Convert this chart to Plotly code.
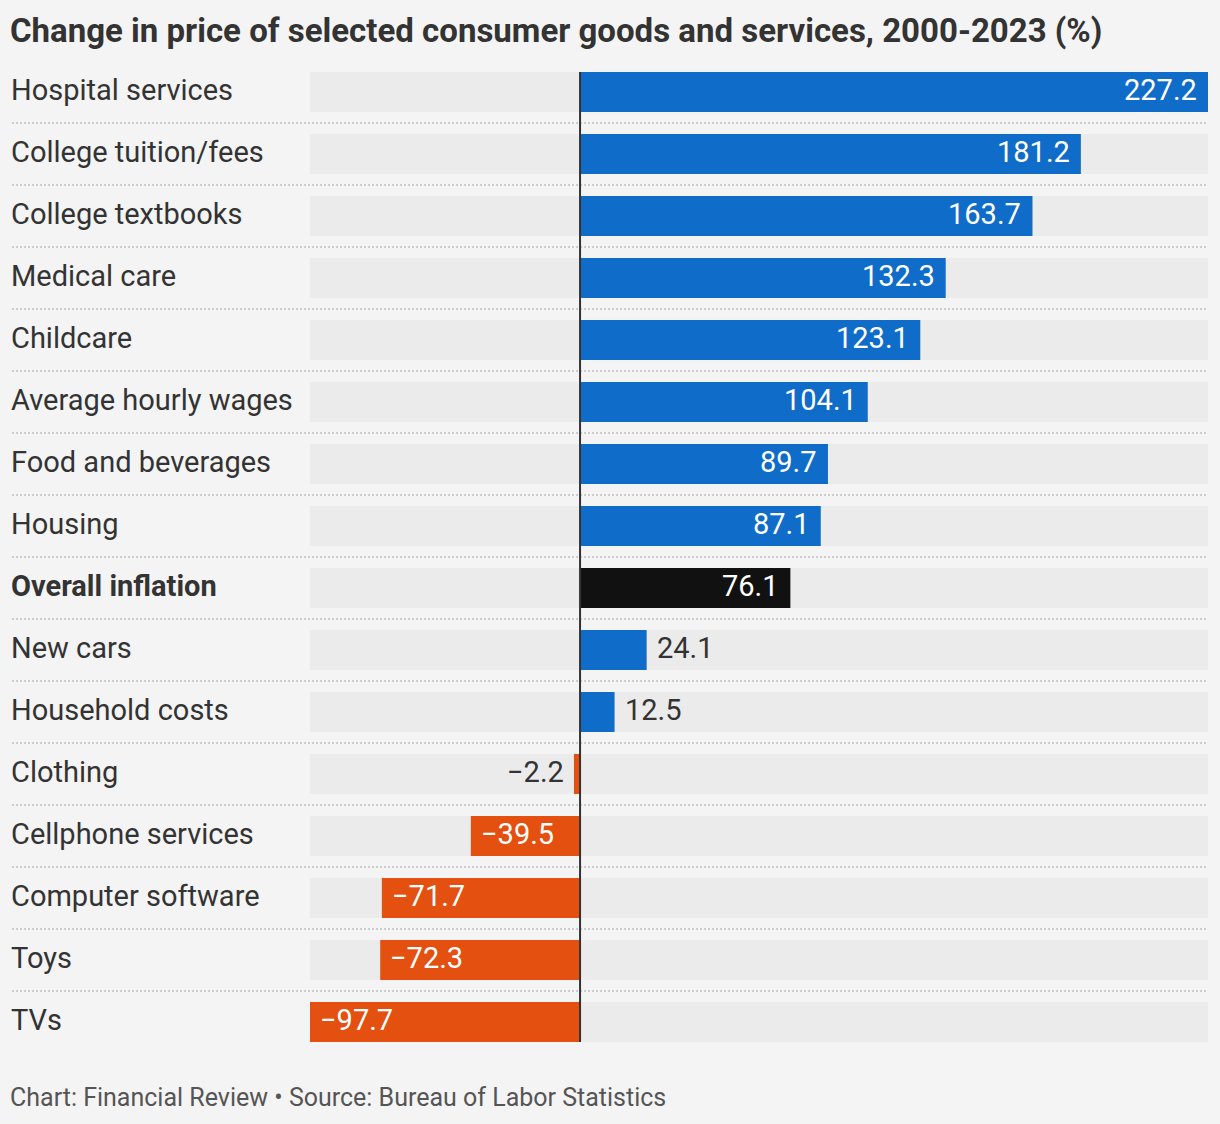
import plotly.graph_objects as go

categories = ["Hospital services", "College tuition/fees", "College textbooks", "Medical care",
              "Childcare", "Average hourly wages", "Food and beverages", "Housing",
              "Overall inflation", "New cars", "Household costs", "Clothing",
              "Cellphone services", "Computer software", "Toys", "TVs"]
values = [227.2, 181.2, 163.7, 132.3, 123.1, 104.1, 89.7, 87.1, 76.1, 24.1, 12.5,
          -2.2, -39.5, -71.7, -72.3, -97.7]
highlight = "Overall inflation"

BLUE = "#0f6cc8"
ORANGE = "#e3500f"
BLACK = "#111111"
BG = "#f4f4f4"
TRACK = "#ebebeb"
TEXT = "#333333"
FONT = "Roboto"

xmin, xmax = min(values), max(values)
W, H = 1220, 1124
ML, MR, MT, MB = 310, 12, 61, 71
plot_w = W - ML - MR
plot_h = H - MT - MB


def px_x(px):
    return (px - ML) / plot_w


def px_y(py):
    return (H - MB - py) / plot_h


colors = [BLACK if c == highlight else (BLUE if v >= 0 else ORANGE) for c, v in zip(categories, values)]

fig = go.Figure()
fig.add_trace(go.Bar(
    y=categories, x=[xmax - xmin] * len(categories), base=[xmin] * len(categories),
    orientation="h", marker=dict(color=TRACK, line=dict(width=0)), hoverinfo="skip",
    showlegend=False))
fig.add_trace(go.Bar(
    y=categories, x=values, orientation="h",
    marker=dict(color=colors, line=dict(width=0)), showlegend=False))

annotations = []
label_x = px_x(12)
for c, v in zip(categories, values):
    bold = c == highlight
    annotations.append(dict(
        x=px_x(9), xref="paper", y=c, yref="y", xanchor="left", yanchor="middle", yshift=2,
        text=f"<b>{c}</b>" if bold else c, showarrow=False,
        font=dict(family=FONT, size=29, color=TEXT)))
    txt = f"{v:.1f}".replace("-", "\u2212")
    inside = abs(v) > 30
    if v >= 0:
        xa, xs = ("right", -9) if inside else ("left", 8)
    else:
        xa, xs = ("left", 8) if inside else ("right", -8)
    annotations.append(dict(
        x=v, xref="x", y=c, yref="y", xanchor=xa, xshift=xs, yanchor="middle", yshift=2,
        text=txt, showarrow=False,
        font=dict(family=FONT, size=29, color="white" if inside else TEXT)))

annotations.append(dict(
    x=px_x(8), xref="paper", y=px_y(31), yref="paper", xanchor="left", yanchor="middle",
    text="<b>Change in price of selected consumer goods and services, 2000-2023 (%)</b>",
    showarrow=False, font=dict(family=FONT, size=33, color=TEXT)))
annotations.append(dict(
    x=px_x(8), xref="paper", y=px_y(1097), yref="paper", xanchor="left", yanchor="middle",
    text="Chart: Financial Review \u2022 Source: Bureau of Labor Statistics",
    showarrow=False, font=dict(family=FONT, size=25, color="#555555")))

shapes = []
n = len(categories)
for i in range(n - 1):
    shapes.append(dict(type="line", xref="paper", yref="y", x0=label_x, x1=1,
                       y0=i + 0.5, y1=i + 0.5,
                       line=dict(color="#cccccc", width=2, dash="2px,2px")))
half = 20 / 62
shapes.append(dict(type="line", xref="x", yref="y", x0=0, x1=0, y0=-half, y1=n - 1 + half,
                   line=dict(color="#333333", width=2)))

fig.update_layout(
    width=W, height=H, paper_bgcolor=BG, plot_bgcolor=BG,
    margin=dict(l=ML, r=MR, t=MT, b=MB),
    barmode="overlay", bargap=22 / 62,
    xaxis=dict(range=[xmin, xmax], showgrid=False, zeroline=False, showticklabels=False,
               fixedrange=True),
    yaxis=dict(categoryorder="array", categoryarray=categories,
               range=[n - 0.5, -0.5], showticklabels=False, showgrid=False, zeroline=False,
               fixedrange=True),
    annotations=annotations, shapes=shapes, hovermode=False,
)
fig.write_html("out.html", config={"displayModeBar": False},
               post_script="document.body.style.margin='0';document.body.style.background='#f4f4f4';")
